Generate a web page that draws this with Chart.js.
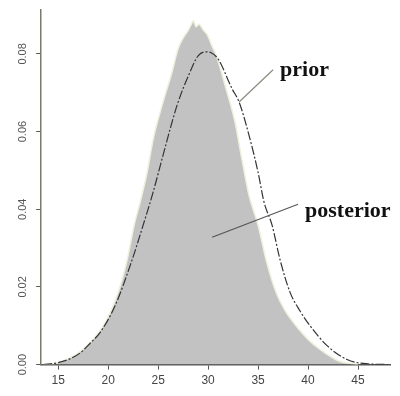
<!DOCTYPE html>
<html>
<head>
<meta charset="utf-8">
<script src="https://cdn.jsdelivr.net/npm/chart.js@4/dist/chart.umd.min.js"></script>
<style>
  html, body { margin: 0; padding: 0; background: #fff; }
  #wrap { width: 400px; height: 396px; }
</style>
</head>
<body>
<div id="wrap"><canvas id="chart" width="400" height="396"></canvas></div>
<script>
// --- Data ---
const xTicks = [15, 20, 25, 30, 35, 40, 45];
const yTicks = [0, 0.02, 0.04, 0.06, 0.08];

const priorX = [13.5, 15, 16, 17.2, 18.2, 19.2, 20.7, 22.4, 23.5, 24.5, 25.5, 26.9, 28.2, 29.0, 29.8, 30.3, 31.0, 32.4, 33.1, 34.2, 35.0, 35.6, 36.4, 37.2, 38.2, 39.2, 40.2, 41.9, 43.9, 45.5, 48.2];
const priorY = [0, 0.0005, 0.0013, 0.003, 0.0055, 0.0083, 0.0152, 0.027, 0.0359, 0.0444, 0.054, 0.0668, 0.0754, 0.0795, 0.0805, 0.0803, 0.0787, 0.071, 0.0676, 0.058, 0.0495, 0.0418, 0.0359, 0.027, 0.0186, 0.0138, 0.010, 0.0049, 0.0013, 0.0003, 0];

const postX = [13.5, 15, 16, 17, 18.2, 19.7, 21.0, 21.9, 22.6, 23.2, 23.9, 24.5, 25.4, 26.4, 27.0, 27.6, 28.0, 28.3, 28.5, 28.8, 29.1, 29.5, 29.9, 30.4, 30.8, 31.8, 32.7, 33.3, 34.1, 35.0, 35.8, 36.8, 37.8, 38.8, 40.0, 41.2, 43.0, 45.0];
const postY = [0, 0.0005, 0.0015, 0.003, 0.0057, 0.0108, 0.0186, 0.027, 0.0359, 0.0418, 0.0495, 0.058, 0.0668, 0.0754, 0.0813, 0.0845, 0.086, 0.0875, 0.0885, 0.087, 0.0876, 0.0862, 0.085, 0.082, 0.0797, 0.071, 0.0624, 0.054, 0.0435, 0.0359, 0.027, 0.0186, 0.0135, 0.010, 0.0065, 0.0039, 0.001, 0];

// callouts, in data units: text anchor + leader line ends
const callouts = [
  { text: 'prior', x: 37.2, y: 0.0743, from: [36.5, 0.0759], to: [33.1, 0.0676], color: '#8a8a80' },
  { text: 'posterior', x: 39.7, y: 0.0379, from: [39.0, 0.0413], to: [30.4, 0.0328], color: '#555' }
];

const toPoints = (xs, ys) => xs.map((x, i) => ({ x, y: ys[i] }));

// --- Callout plugin ---
const calloutPlugin = {
  id: 'callouts',
  afterDatasetsDraw(chart) {
    const { ctx, scales: { x, y } } = chart;
    ctx.save();
    callouts.forEach(c => {
      ctx.strokeStyle = c.color;
      ctx.lineWidth = 1.2;
      ctx.beginPath();
      ctx.moveTo(x.getPixelForValue(c.from[0]), y.getPixelForValue(c.from[1]));
      ctx.lineTo(x.getPixelForValue(c.to[0]), y.getPixelForValue(c.to[1]));
      ctx.stroke();
      ctx.fillStyle = '#111';
      ctx.font = 'bold 22px "Liberation Serif", "Times New Roman", serif';
      ctx.textBaseline = 'alphabetic';
      ctx.fillText(c.text, x.getPixelForValue(c.x), y.getPixelForValue(c.y));
    });
    ctx.restore();
  }
};

// --- Chart ---
new Chart(document.getElementById('chart').getContext('2d'), {
  type: 'line',
  data: {
    datasets: [
      {
        label: 'prior',
        data: toPoints(priorX, priorY),
        borderColor: '#333',
        borderWidth: 1.2,
        borderDash: [9, 2, 2, 2],
        pointRadius: 0,
        fill: false,
        cubicInterpolationMode: 'monotone'
      },
      {
        label: 'posterior',
        data: toPoints(postX, postY),
        borderColor: '#f0f0dc',
        borderWidth: 1.5,
        backgroundColor: '#c2c2c2',
        pointRadius: 0,
        fill: 'origin',
        cubicInterpolationMode: 'monotone'
      }
    ]
  },
  options: {
    responsive: false,
    animation: false,
    layout: { padding: { left: 17, right: 10, top: 8, bottom: 4 } },
    plugins: { legend: { display: false }, tooltip: { enabled: false } },
    scales: {
      x: {
        type: 'linear',
        min: 13.3,
        max: 48.2,
        afterBuildTicks: s => { s.ticks = xTicks.map(v => ({ value: v })); },
        border: { color: '#555', width: 1.5 },
        grid: { drawOnChartArea: false, tickLength: 5, color: '#555' },
        ticks: { color: '#444', font: { family: '"Liberation Sans", Arial', size: 12 }, padding: 4, maxRotation: 0 }
      },
      y: {
        min: 0,
        max: 0.0914,
        afterBuildTicks: s => { s.ticks = yTicks.map(v => ({ value: v })); },
        border: { color: '#7a7a68', width: 1.5 },
        grid: { drawOnChartArea: false, tickLength: 5, color: '#555' },
        ticks: {
          color: '#555',
          font: { family: '"Liberation Sans", Arial', size: 11 },
          minRotation: 90,
          maxRotation: 90,
          crossAlign: 'center',
          padding: 3,
          callback: v => v.toFixed(2)
        }
      }
    }
  },
  plugins: [calloutPlugin]
});
</script>
</body>
</html>
